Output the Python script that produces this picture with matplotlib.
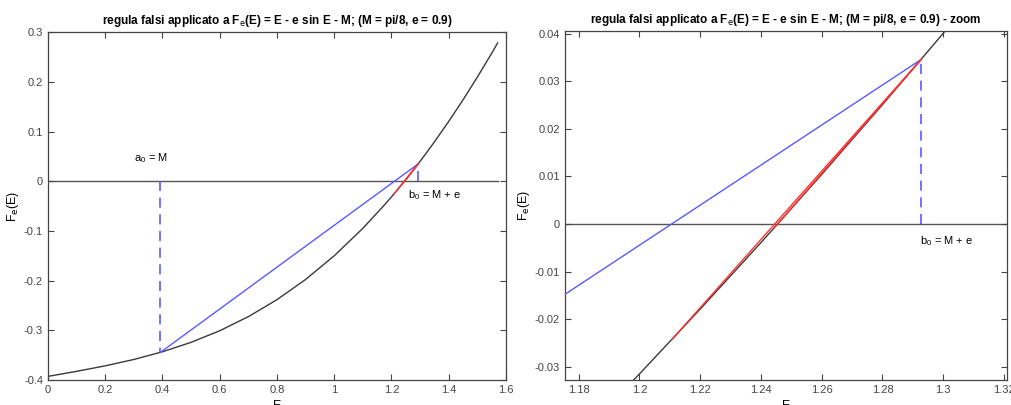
"""
regula falsi su F_e(E) = E - e sin E - M, vista intera + zoom
"""

import matplotlib.pyplot as plt

# dati
E_curve = [0.0, 0.1, 0.2, 0.3, 0.4, 0.5, 0.6, 0.7, 0.8, 0.9, 1.0, 1.1,
           1.18, 1.2, 1.22, 1.24, 1.26, 1.28, 1.3, 1.32, 1.35, 1.4, 1.45,
           1.5, 1.55, 1.5708]
F_curve = [-0.3927, -0.38255, -0.3715, -0.35867, -0.34318, -0.32418,
           -0.30088, -0.2725, -0.23832, -0.19769, -0.15002, -0.09479,
           -0.04484, -0.03153, -0.01789, -0.00391, 0.01042, 0.02509,
           0.0401, 0.05546, 0.07915, 0.1204, 0.16386, 0.20956, 0.2575,
           0.2781]

a0, Fa0 = 0.3927, -0.34442   # a_0 = M
b0, Fb0 = 1.2927, 0.03458    # b_0 = M + e

# iterati successivi (estremo sinistro), tutti uniti a b0
it_E = [1.21059, 1.24452]
it_F = [-0.02436, -0.0007]

title_txt = r'regula falsi applicato a F$_{\rm e}$(E) = E - e sin E - M; (M = pi/8, e = 0.9)'

plt.rcParams['font.family'] = ['Liberation Sans', 'DejaVu Sans']
plt.rcParams['mathtext.default'] = 'regular'

blue = '#5a5aff'
red = '#ff3030'
curve_col = '#3a3a3a'
axis_col = '#555555'

fig = plt.figure(figsize=(10.12, 4.05), dpi=100)
ax1 = fig.add_axes([0.0474, 0.0617, 0.4526, 0.859])
ax2 = fig.add_axes([0.5583, 0.0617, 0.4368, 0.862])


def draw(ax, zoom):
    ax.plot(E_curve, F_curve, color=curve_col, lw=1.0, zorder=2)
    if zoom:
        ax.axhline(0, color=axis_col, lw=1.0, zorder=1)
    else:
        ax.plot([0, E_curve[-1]], [0, 0], color=axis_col, lw=1.0, zorder=1)
    # primo passo (blu)
    ax.plot([a0, b0], [Fa0, Fb0], color=blue, lw=1.0, zorder=3)
    ax.plot([a0, a0], [0, Fa0], color=blue, lw=1.2, ls=(0, (6, 4)), zorder=3)
    ax.plot([b0, b0], [0, Fb0], color=blue, lw=1.2, ls=(0, (6, 4)), zorder=3)
    # passi successivi (rosso)
    for x, y in zip(it_E, it_F):
        ax.plot([x, b0], [y, Fb0], color=red, lw=1.0, zorder=3)
    ax.tick_params(direction='in', top=True, right=True, labelsize=8,
                   colors='#444444', length=4, width=0.8)
    for s in ax.spines.values():
        s.set_color('#444444')
        s.set_linewidth(0.9)
    ax.set_xlabel('E', fontsize=9, labelpad=4)
    ax.set_ylabel(r'F$_{\rm e}$(E)', fontsize=9, labelpad=2)


draw(ax1, False)
ax1.set_xlim(0, 1.6)
ax1.set_ylim(-0.4, 0.3)
ax1.set_xticks([0, 0.2, 0.4, 0.6, 0.8, 1, 1.2, 1.4, 1.6])
ax1.set_xticklabels(['0', '0.2', '0.4', '0.6', '0.8', '1', '1.2', '1.4', '1.6'])
ax1.set_yticks([-0.4, -0.3, -0.2, -0.1, 0, 0.1, 0.2, 0.3])
ax1.set_yticklabels(['-0.4', '-0.3', '-0.2', '-0.1', '0', '0.1', '0.2', '0.3'])
ax1.set_title(title_txt, fontsize=8.5, fontweight='bold', pad=6)
ax1.text(0.3, 0.032, r'a$_0$ = M', fontsize=8, ha='left', va='bottom')
ax1.text(1.257, -0.015, r'b$_0$ = M + e', fontsize=8, ha='left', va='top')

draw(ax2, True)
ax2.set_xlim(1.1755, 1.321)
ax2.set_ylim(-0.0328, 0.0406)
ax2.set_xticks([1.18, 1.2, 1.22, 1.24, 1.26, 1.28, 1.3, 1.32])
ax2.set_xticklabels(['1.18', '1.2', '1.22', '1.24', '1.26', '1.28', '1.3', '1.32'])
ax2.set_yticks([-0.03, -0.02, -0.01, 0, 0.01, 0.02, 0.03, 0.04])
ax2.set_yticklabels(['-0.03', '-0.02', '-0.01', '0', '0.01', '0.02', '0.03', '0.04'])
ax2.set_title(title_txt + ' - zoom', fontsize=8.5, fontweight='bold', pad=6)
ax2.text(1.2925, -0.0022, r'b$_0$ = M + e', fontsize=8, ha='left', va='top')

fig.savefig('out.png', dpi=100, facecolor='white')
